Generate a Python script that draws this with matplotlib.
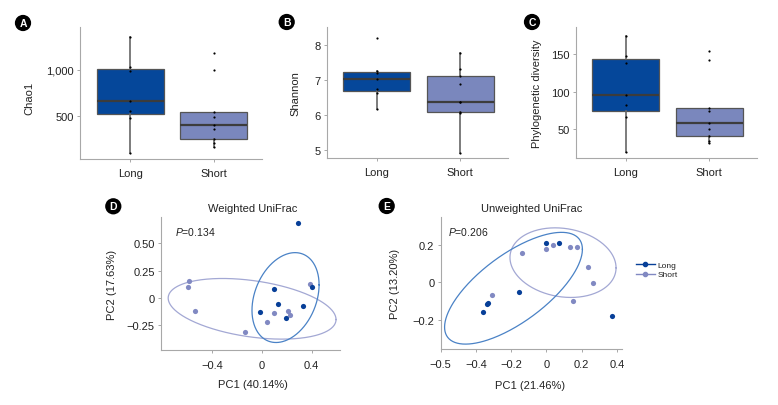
import numpy as np
import matplotlib
matplotlib.use("Agg")
import matplotlib.pyplot as plt
from matplotlib.lines import Line2D

plt.rcParams['font.family'] = ['Liberation Sans', 'DejaVu Sans']
plt.rcParams['mathtext.fontset'] = 'custom'
plt.rcParams['mathtext.it'] = 'Liberation Sans:italic'
plt.rcParams['mathtext.rm'] = 'Liberation Sans'
plt.rcParams['axes.unicode_minus'] = True

# ---------------- data ----------------
groups = ["Long", "Short"]

chao1_long = [100, 478, 558, 665, 990, 1030, 1355]
chao1_short = [160, 207, 250, 359, 402, 486, 540, 1004, 1181]
shannon_long = [6.16, 6.64, 6.74, 7.02, 7.19, 7.25, 8.21]
shannon_short = [4.92, 6.05, 6.08, 6.36, 6.37, 6.89, 7.10, 7.31, 7.78]
pd_long = [19, 65.6, 82.3, 95.2, 137.6, 147.8, 174.4]
pd_short = [31, 34.4, 41, 50, 58, 74, 78, 142, 153.6]

# Weighted UniFrac PCoA
w_long_pc1 = [0.294, 0.094, 0.400, 0.127, 0.329, -0.019, 0.194]
w_long_pc2 = [0.689, 0.085, 0.097, -0.055, -0.077, -0.134, -0.183]
w_short_pc1 = [-0.593, -0.601, -0.539, -0.135, 0.043, 0.097, 0.208, 0.224, 0.390]
w_short_pc2 = [0.152, 0.095, -0.125, -0.311, -0.223, -0.137, -0.122, -0.162, 0.128]

# Unweighted UniFrac PCoA
u_long_pc1 = [-0.004, 0.072, -0.154, -0.330, -0.339, -0.358, 0.373]
u_long_pc2 = [0.212, 0.209, -0.051, -0.112, -0.117, -0.159, -0.179]
u_short_pc1 = [-0.002, 0.040, -0.137, 0.131, 0.171, 0.238, 0.263, 0.150, -0.309]
u_short_pc2 = [0.175, 0.198, 0.156, 0.189, 0.186, 0.081, -0.004, -0.101, -0.065]

# ellipses: centre x, centre y, x half-range, y half-range, phase
w_ell_long = [0.190, 0.002, 0.271, 0.412, 1.283]
w_ell_short = [-0.080, -0.101, 0.678, 0.278, 1.932]
u_ell_long = [-0.187, -0.031, 0.391, 0.297, 0.80]
u_ell_short = [0.094, 0.105, 0.301, 0.185, 1.72]

w_pval = "0.134"
u_pval = "0.206"
w_xlabel = "PC1 (40.14%)"
w_ylabel = "PC2 (17.63%)"
u_xlabel = "PC1 (21.46%)"
u_ylabel = "PC2 (13.20%)"

# ---------------- style ----------------
W, H = 778, 406
C_LONG_BOX = "#05479a"
C_SHORT_BOX = "#7a87bd"
C_LONG_PT = "#073f98"
C_SHORT_PT = "#8189c2"
C_LONG_ELL = "#4a82c6"
C_SHORT_ELL = "#a3a8d4"
SPINE = "#a8a8a8"
TXT = "#222222"
FS = 8

fig = plt.figure(figsize=(W / 100, H / 100), dpi=100)


def add_ax(left, right, top, bottom):
    return fig.add_axes([left / W, 1 - bottom / H, (right - left) / W, (bottom - top) / H])


def style(ax):
    for s in ("top", "right"):
        ax.spines[s].set_visible(False)
    for s in ("left", "bottom"):
        ax.spines[s].set_color(SPINE)
        ax.spines[s].set_linewidth(0.8)
    ax.tick_params(colors=SPINE, labelcolor=TXT, labelsize=FS, length=2.5, width=0.7, pad=2)


def boxpanel(ax, long_vals, short_vals, ylabel, ylim, yticks, yticklabels, ylab_x, ylab_y):
    bp = ax.boxplot([long_vals, short_vals], positions=[0, 1], widths=0.8, patch_artist=True,
                    showfliers=False, showcaps=False, whis=1.5,
                    boxprops=dict(edgecolor="#555555", linewidth=0.9),
                    medianprops=dict(color="#3c3c3c", linewidth=1.6),
                    whiskerprops=dict(color="#666666", linewidth=1.2))
    for patch, c in zip(bp["boxes"], [C_LONG_BOX, C_SHORT_BOX]):
        patch.set_facecolor(c)
    for i, vals in enumerate([long_vals, short_vals]):
        ax.scatter(np.full(len(vals), i), vals, s=2.5, color="black", zorder=5, linewidths=0)
    ax.set_xlim(-0.6, 1.575)
    ax.set_ylim(*ylim)
    ax.set_xticks([0, 1])
    ax.set_xticklabels(groups)
    ax.set_yticks(yticks)
    ax.set_yticklabels(yticklabels)
    ax.set_ylabel(ylabel, fontsize=FS, color=TXT)
    ax.yaxis.set_label_coords(ylab_x, ylab_y)
    style(ax)
    ax.tick_params(axis="x", pad=4)


def ellipse(ax, params, color):
    cx, cy, a, b, phi = params
    t = np.linspace(0, 2 * np.pi, 300)
    ax.plot(cx + a * np.cos(t), cy + b * np.cos(t - phi), color=color, lw=0.9, zorder=2)


def pcoa(ax, lx, ly, sx, sy, ell_l, ell_s, title, pval, xlabel, ylabel,
         xlim, ylim, xticks, xticklabels, yticks, yticklabels, lab):
    ellipse(ax, ell_s, C_SHORT_ELL)
    ellipse(ax, ell_l, C_LONG_ELL)
    ax.scatter(sx, sy, s=14, color=C_SHORT_PT, zorder=3, linewidths=0)
    ax.scatter(lx, ly, s=14, color=C_LONG_PT, zorder=4, linewidths=0)
    ax.set_xlim(*xlim)
    ax.set_ylim(*ylim)
    ax.set_xticks(xticks)
    ax.set_xticklabels(xticklabels)
    ax.set_yticks(yticks)
    ax.set_yticklabels(yticklabels)
    style(ax)
    ax.tick_params(axis="x", pad=5)
    ax.set_xlabel(xlabel, fontsize=FS, color=TXT)
    ax.set_ylabel(ylabel, fontsize=FS, color=TXT)
    ax.xaxis.set_label_coords(lab[0], lab[1])
    ax.yaxis.set_label_coords(lab[2], 0.5)
    ax.text(lab[3], 1.07, title, transform=ax.transAxes, ha="center", va="center",
            fontsize=FS, color=TXT)
    ax.text(lab[4], lab[5], r"$\it{P}$=" + pval, transform=ax.transAxes, ha="left",
            va="center", fontsize=FS - 0.5, color=TXT)


axA = add_ax(80, 262, 28, 160)
boxpanel(axA, chao1_long, chao1_short, "Chao1", (33, 1467), [500, 1000], ["500", "1,000"], -0.253, 0.47)
axB = add_ax(326.7, 508.3, 27.7, 159.3)
boxpanel(axB, shannon_long, shannon_short, "Shannon", (4.76, 8.52), [5, 6, 7, 8], ["5", "6", "7", "8"], -0.145, 0.5)
axC = add_ax(575.7, 757.3, 28, 159.3)
boxpanel(axC, pd_long, pd_short, "Phylogenetic diversity", (11, 186), [50, 100, 150], ["50", "100", "150"], -0.188, 0.5)

axD = add_ax(161, 340, 218.3, 350.7)
pcoa(axD, w_long_pc1, w_long_pc2, w_short_pc1, w_short_pc2, w_ell_long, w_ell_short,
     "Weighted UniFrac", w_pval, w_xlabel, w_ylabel,
     (-0.816, 0.63), (-0.476, 0.738), [-0.4, 0, 0.4], ["\u22120.4", "0", "0.4"],
     [-0.25, 0, 0.25, 0.5], ["\u22120.25", "0", "0.25", "0.50"],
     (0.514, -0.222, -0.247, 0.514, 0.078, 0.899))

axE = add_ax(440.7, 621.7, 218.3, 350)
pcoa(axE, u_long_pc1, u_long_pc2, u_short_pc1, u_short_pc2, u_ell_long, u_ell_short,
     "Unweighted UniFrac", u_pval, u_xlabel, u_ylabel,
     (-0.6, 0.427), (-0.354, 0.346), [-0.6, -0.4, -0.2, 0, 0.2, 0.4],
     ["\u22120.5", "\u22120.4", "\u22120.2", "0", "0.2", "0.4"],
     [-0.2, 0, 0.2], ["\u22120.2", "0", "0.2"],
     (0.493, -0.235, -0.227, 0.503, 0.042, 0.896))

# legend
handles = [Line2D([], [], color=C_LONG_PT, marker="o", markersize=3, lw=1),
           Line2D([], [], color=C_SHORT_PT, marker="o", markersize=3, lw=1)]
fig.legend(handles, groups, loc="upper left", bbox_to_anchor=(632 / W, 1 - 258 / H),
           frameon=False, fontsize=6, handlelength=2.2, handletextpad=0.4,
           labelspacing=0.2, borderpad=0, labelcolor=TXT)

# panel letters
for letter, (px, py) in zip("ABCDE", [(23, 24), (286.7, 23), (532, 23), (113.3, 207.3), (386.7, 207)]):
    fig.text(px / W, 1 - py / H, letter, ha="center", va="center", color="white",
             fontsize=7.5, fontweight="bold",
             bbox=dict(boxstyle="circle,pad=0.3", fc="black", ec="none"))

fig.savefig("out.png", dpi=100)
